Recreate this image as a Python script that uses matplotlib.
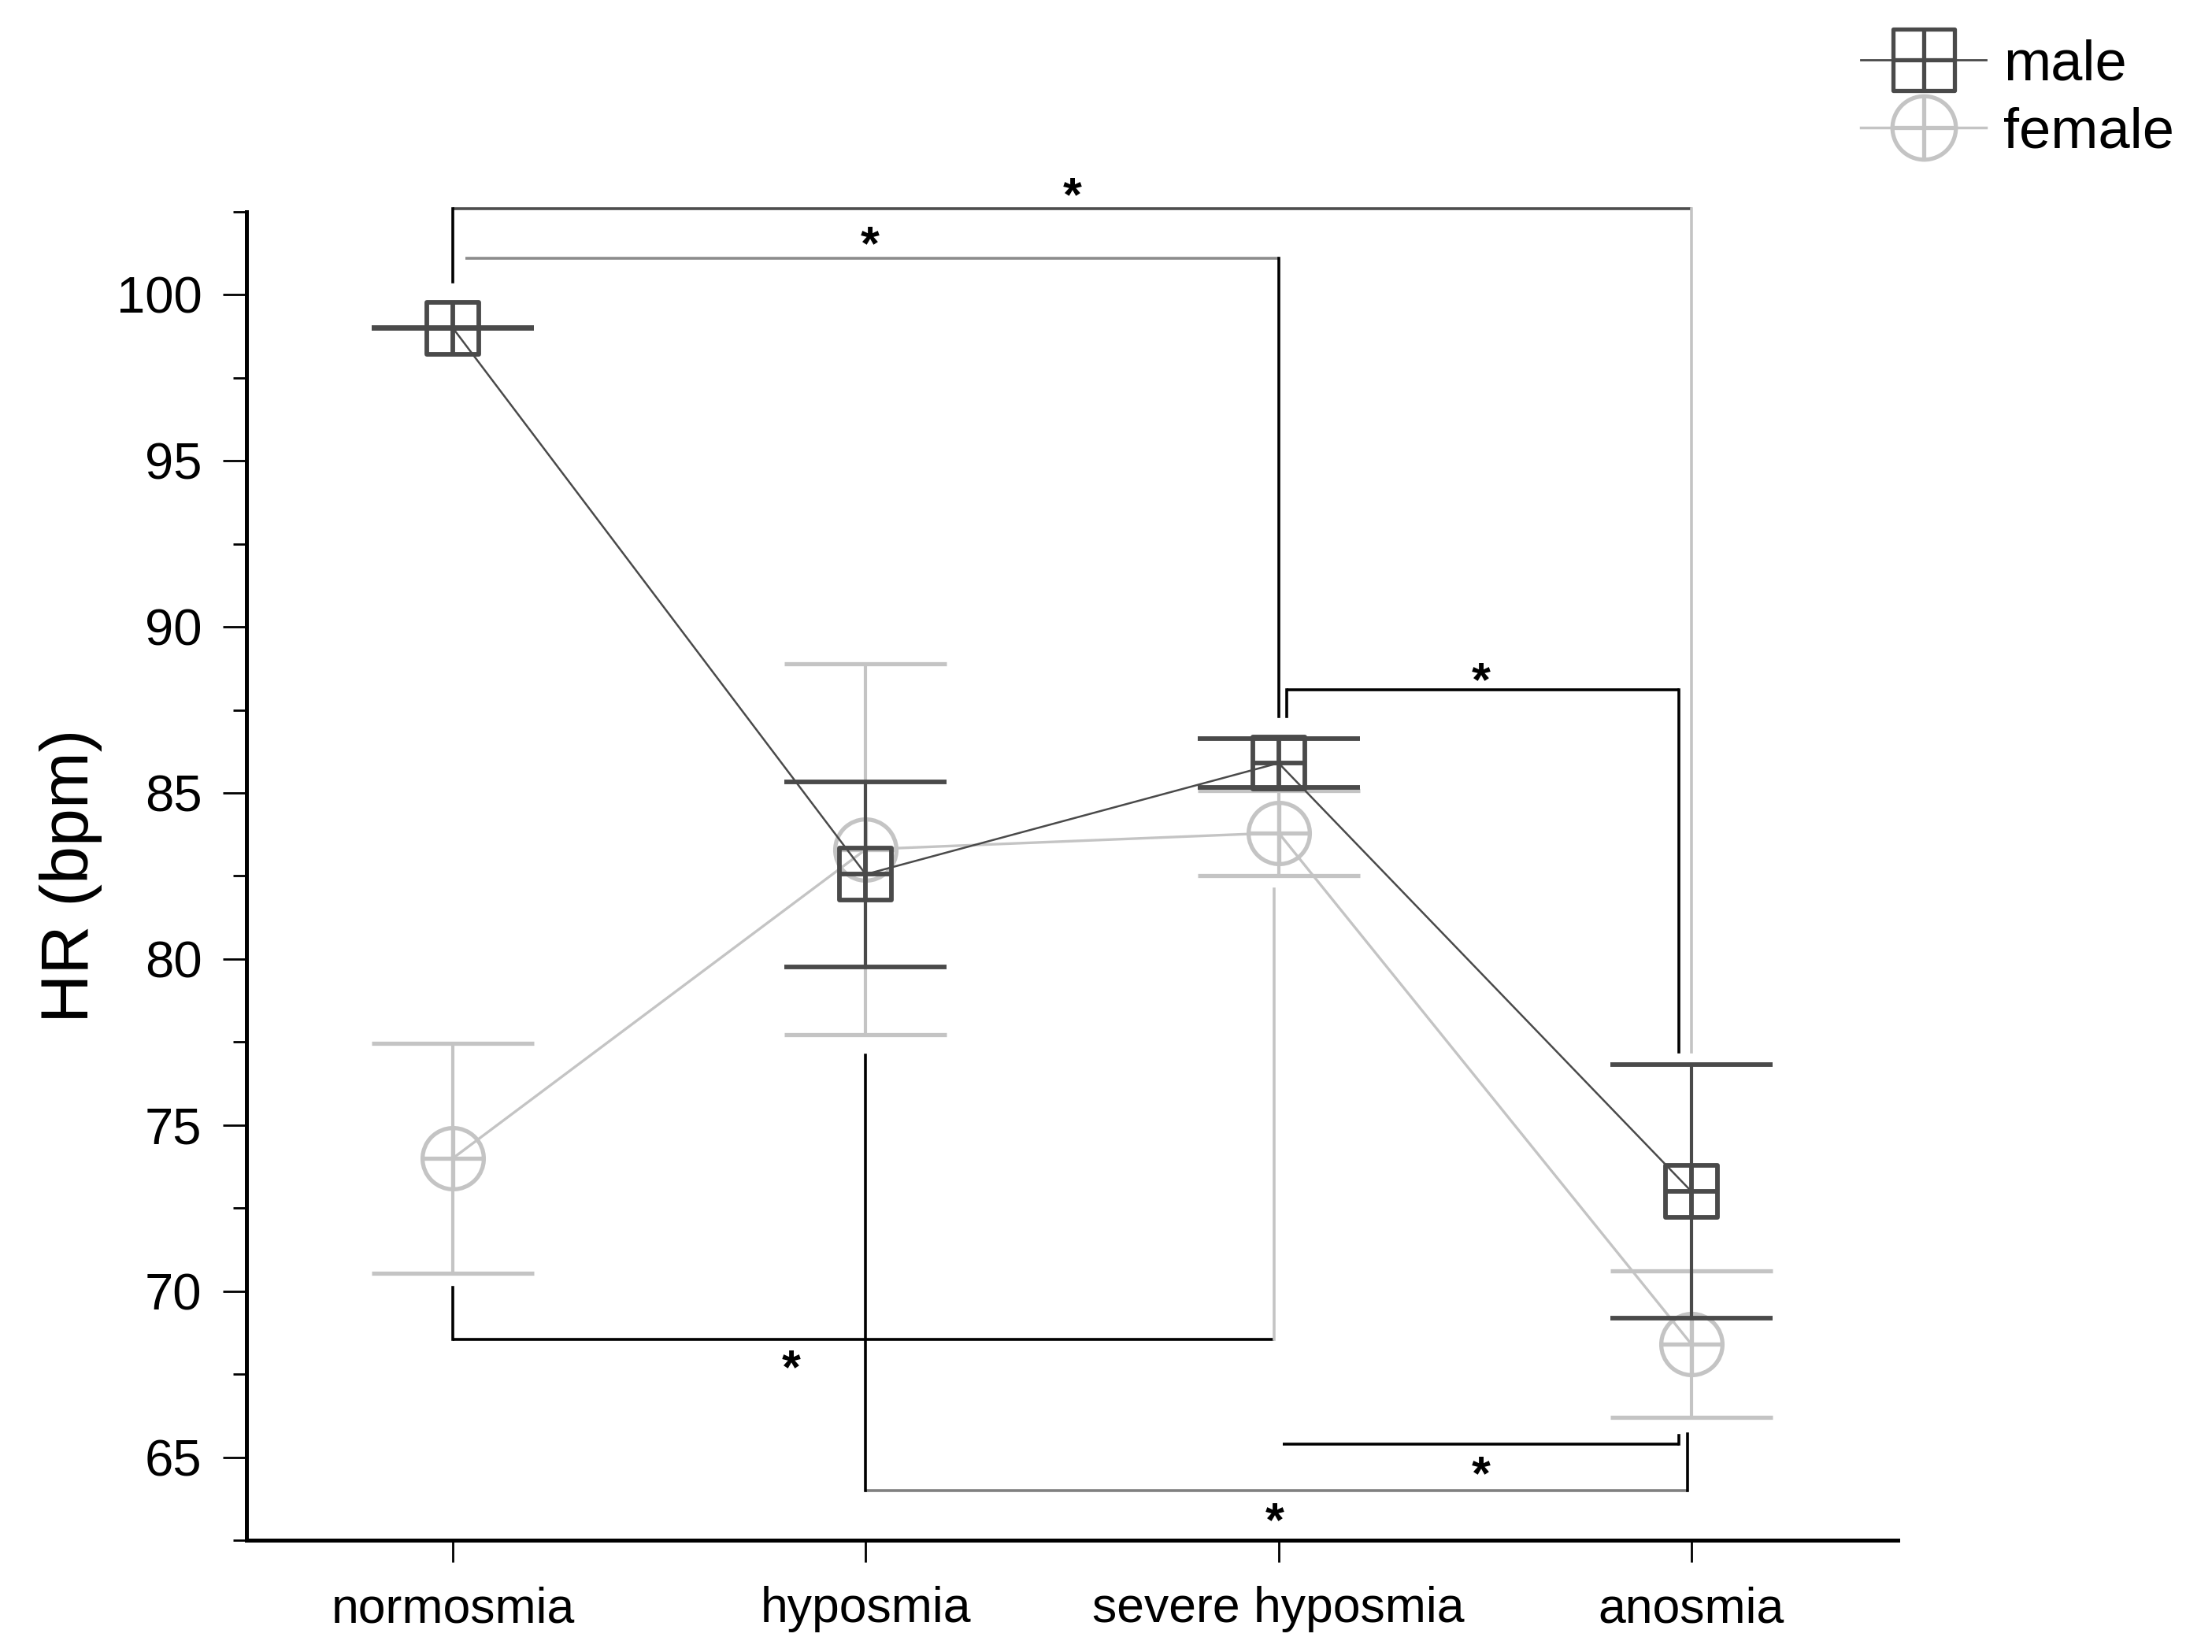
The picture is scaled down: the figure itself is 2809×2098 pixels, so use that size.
import numpy as np
import matplotlib
matplotlib.use('Agg')
import matplotlib.pyplot as plt
from matplotlib.path import Path
from matplotlib.lines import Line2D

plt.rcParams['font.family'] = ['Liberation Sans', 'DejaVu Sans']

categories = ['normosmia', 'hyposmia', 'severe hyposmia', 'anosmia']
male_hr = [99.0, 82.55, 85.9, 73.0]
male_sem = [0.02, 2.78, 0.73, 3.82]
female_hr = [74.0, 83.3, 83.8, 68.4]
female_sem = [3.46, 5.58, 1.28, 2.2]

# significance brackets: (x_left, x_right, y, left end, right end)
brackets = [
    (0.0, 3.0, 102.6, 100.4, 77.2),
    (0.03, 2.0, 101.1, None, 87.3),
    (2.02, 2.97, 88.1, 87.3, 77.2),
    (0.0, 1.99, 68.55, 70.1, 82.1),
    (2.01, 2.97, 65.4, None, 65.65),
    (1.0, 2.99, 64.0, 77.1, 65.7),
]
bracket_colors = [  # horizontal, left, right
    ('#4d4d4d', 'black', '#c4c4c4'),
    ('#8c8c8c', 'black', 'black'),
    ('black', 'black', 'black'),
    ('black', 'black', '#c4c4c4'),
    ('black', 'black', 'black'),
    ('#808080', 'black', 'black'),
]
star_x = [1.5, 1.01, 2.49, 0.82, 2.49, 1.99]
star_y = [102.9, 101.45, 88.3, 67.6, 64.4, 63.0]

male_c = '#4a4a4a'
female_c = '#c4c4c4'

# markers: square with cross, circle with cross
M, L, C = Path.MOVETO, Path.LINETO, Path.CLOSEPOLY
sq_cross = Path([(-1, -1), (1, -1), (1, 1), (-1, 1), (-1, -1),
                 (-1, 0), (1, 0), (0, -1), (0, 1)],
                [M, L, L, L, C, M, L, M, L])
cross = Path([(-1, 0), (1, 0), (0, -1), (0, 1)], [M, L, M, L])
circ_cross = Path.make_compound_path(Path.unit_circle(), cross)

fig = plt.figure(figsize=(28.09, 20.98), dpi=100)
ax = fig.add_axes([0.1114, 0.0677, 0.7466, 0.8041])

x = np.arange(len(categories))

ax.errorbar(x, female_hr, yerr=female_sem, color=female_c, lw=2.4,
            elinewidth=3, capsize=74, capthick=3, marker=circ_cross,
            ms=56, mfc='none', mec=female_c, mew=3.8, zorder=3)
ax.errorbar(x, male_hr, yerr=male_sem, color=male_c, lw=1.8,
            elinewidth=3, capsize=74, capthick=3.2, marker=sq_cross,
            ms=48, mfc='none', mec=male_c, mew=4.2, zorder=4)

for (x0, x1, y, yl, yr), (ch, cl, cr) in zip(brackets, bracket_colors):
    ax.plot([x0, x1], [y, y], color=ch, lw=2.6, clip_on=False,
            solid_capstyle='butt', zorder=2)
    if yl is not None:
        ax.plot([x0, x0], [yl, y], color=cl, lw=2.6, clip_on=False, zorder=2)
    if yr is not None:
        ax.plot([x1, x1], [yr, y], color=cr, lw=2.6, clip_on=False, zorder=2)

for sx, sy in zip(star_x, star_y):
    ax.text(sx, sy, '*', fontsize=44, fontweight='bold', ha='center',
            va='center', clip_on=False)

ax.set_xlim(-0.5, 3.5)
ax.set_ylim(62.5, 102.5)
ax.set_xticks(x)
ax.set_xticklabels(categories, fontsize=45)
ax.set_yticks(np.arange(65, 101, 5))
ax.set_yticks(np.arange(62.5, 103, 2.5), minor=True)
ax.tick_params(axis='y', which='major', labelsize=47, length=21.6, width=2, pad=19)
ax.tick_params(axis='y', which='minor', length=12, width=2)
ax.tick_params(axis='x', which='major', length=20, width=2, pad=22)

for s in ['top', 'right']:
    ax.spines[s].set_visible(False)
ax.spines['left'].set_linewidth(3.6)
ax.spines['bottom'].set_linewidth(3.6)

ax.set_ylabel('HR (bpm)', fontsize=62)
ax.yaxis.set_label_coords(-0.087, 0.5)

handles = [
    Line2D([], [], color=male_c, lw=2, marker=sq_cross, ms=56, mfc='none',
           mec=male_c, mew=3.8),
    Line2D([], [], color=female_c, lw=2.5, marker=circ_cross, ms=58, mfc='none',
           mec=female_c, mew=3.8),
]
fig.legend(handles, ['male', 'female'], loc='upper left',
           bbox_to_anchor=(0.8285, 0.9935), frameon=False, fontsize=52,
           handlelength=2.2, handletextpad=0.3, labelspacing=0.26,
           borderpad=0)

fig.savefig('out.png', dpi=100, facecolor='white')
